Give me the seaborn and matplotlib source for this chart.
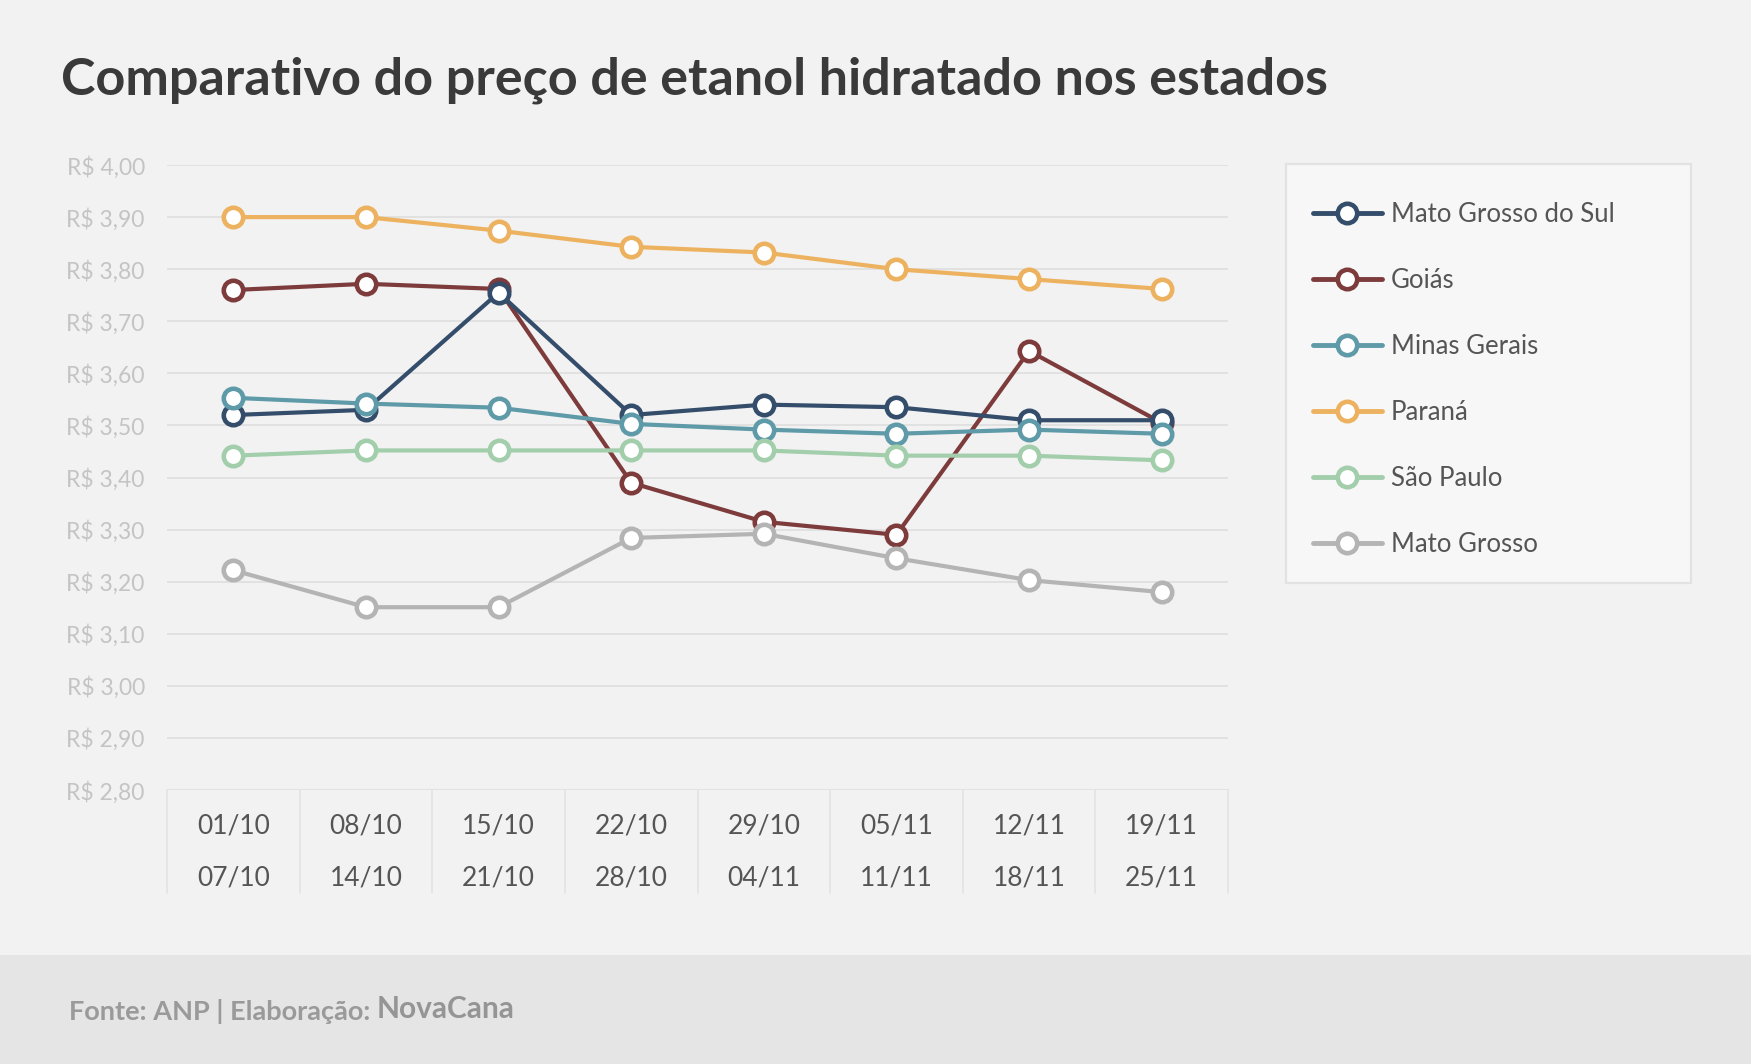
import numpy as np
import pandas as pd
import matplotlib
matplotlib.use('Agg')
import matplotlib.pyplot as plt
import matplotlib.transforms as mtransforms
from matplotlib.patches import Rectangle
import seaborn as sns

# =====================
# DATA
# =====================
semana_inicio = ['01/10', '08/10', '15/10', '22/10', '29/10', '05/11', '12/11', '19/11']
semana_fim = ['07/10', '14/10', '21/10', '28/10', '04/11', '11/11', '18/11', '25/11']

mato_grosso_sul = [3.52, 3.53, 3.755, 3.52, 3.54, 3.535, 3.51, 3.51]
goias = [3.76, 3.772, 3.762, 3.39, 3.315, 3.29, 3.643, 3.505]
minas_gerais = [3.553, 3.542, 3.534, 3.503, 3.492, 3.484, 3.492, 3.484]
parana = [3.90, 3.90, 3.874, 3.843, 3.832, 3.80, 3.781, 3.762]
sao_paulo = [3.442, 3.452, 3.452, 3.452, 3.452, 3.442, 3.442, 3.433]
mato_grosso = [3.222, 3.151, 3.151, 3.284, 3.292, 3.245, 3.203, 3.180]

estados = ['Mato Grosso do Sul', 'Goiás', 'Minas Gerais', 'Paraná', 'São Paulo', 'Mato Grosso']
valores = [mato_grosso_sul, goias, minas_gerais, parana, sao_paulo, mato_grosso]
cores = ['#344d6b', '#7d3b3b', '#5e9aa8', '#edb25f', '#a3ceac', '#b4b4b4']

# order in which lines are stacked (bottom first)
ordem_desenho = ['Goiás', 'Mato Grosso do Sul', 'Minas Gerais', 'Paraná', 'São Paulo', 'Mato Grosso']

df = pd.DataFrame({
    'estado': np.repeat(estados, len(semana_inicio)),
    'pos': np.tile(np.arange(len(semana_inicio)), len(estados)),
    'preco': np.concatenate(valores),
})

# =====================
# FIGURE
# =====================
sns.set_style('white')
plt.rcParams['font.family'] = ['Lato', 'DejaVu Sans']

BG = '#f2f2f2'
fig = plt.figure(figsize=(17.51, 10.64), dpi=100, facecolor=BG)

# footer band
fig.patches.append(Rectangle((0, 0), 1, 0.1024, transform=fig.transFigure,
                             facecolor='#e5e5e5', edgecolor='none', zorder=0))

ax = fig.add_axes([0.0954, 0.2575, 0.6059, 0.5874], facecolor=BG)

palette = dict(zip(estados, cores))
for z, nome in enumerate(ordem_desenho):
    sub = df[df['estado'] == nome]
    sns.lineplot(data=sub, x='pos', y='preco', ax=ax, color=palette[nome],
                 linewidth=3, marker='o', markersize=14,
                 markerfacecolor='white', markeredgecolor=palette[nome],
                 markeredgewidth=3.3, label=nome, zorder=3 + z, legend=False)

ax.set_xlim(-0.5, len(semana_inicio) - 0.5)
ax.set_ylim(2.8, 4.0)
yt = np.round(np.arange(2.8, 4.001, 0.1), 2)
ax.set_yticks(yt)
ax.set_yticklabels([f'R$ {v:.2f}'.replace('.', ',') for v in yt],
                   color='#c4c4c4', fontsize=16.5)
ax.tick_params(axis='y', length=0, pad=16)
ax.set_xticks([])
ax.set_xlabel('')
ax.set_ylabel('')
ax.grid(True, axis='y', color='#e0e0e0', linewidth=1.3)
ax.set_axisbelow(True)
for s in ax.spines.values():
    s.set_visible(False)

# table-like x labels below the plot
trans = mtransforms.blended_transform_factory(ax.transData, ax.transAxes)
for i in range(len(semana_inicio) + 1):
    ax.plot([i - 0.5, i - 0.5], [0, -0.165], transform=trans, color='#e3e3e3',
            linewidth=1.2, clip_on=False)
for i, (a, b) in enumerate(zip(semana_inicio, semana_fim)):
    ax.text(i, -0.058, a, transform=trans, ha='center', va='center',
            fontsize=19, color='#555555')
    ax.text(i, -0.141, b, transform=trans, ha='center', va='center',
            fontsize=19, color='#555555')

# title
fig.text(0.0348, 0.925, 'Comparativo do preço de etanol hidratado nos estados',
         fontsize=37.5, fontweight='bold', color='#3a3a3a', ha='left', va='center')

# legend box
fig.patches.append(Rectangle((1286 / 1751, 1 - 583 / 1064), 405 / 1751, 419 / 1064,
                             transform=fig.transFigure, facecolor='#f7f7f7',
                             edgecolor='#e2e2e2', linewidth=1.6, zorder=1))
handles, labels = ax.get_legend_handles_labels()
hmap = dict(zip(labels, handles))
leg = fig.legend([hmap[e] for e in estados], estados, loc='upper left',
                 bbox_to_anchor=(1292 / 1751, 1 - 181 / 1064), frameon=False,
                 fontsize=18.5, labelcolor='#555555', handlelength=2.7,
                 handletextpad=0.35, labelspacing=1.6, borderpad=0.3)
for h in leg.legend_handles:
    h.set_linewidth(3.5)
leg.set_zorder(5)

# footer text
t1 = fig.text(69 / 1751, 1 - 1011 / 1064, 'Fonte: ANP | Elaboração: ',
              fontsize=19.5, fontweight='bold', color='#9a9a9a', ha='left', va='center')
fig.canvas.draw()
bb = t1.get_window_extent(renderer=fig.canvas.get_renderer())
fig.text(bb.x1 / fig.bbox.width, 1 - 1009 / 1064, 'NovaCana',
         fontsize=21.5, fontweight='bold', color='#959595', ha='left', va='center')

fig.savefig('out.png', dpi=100, facecolor=BG)
